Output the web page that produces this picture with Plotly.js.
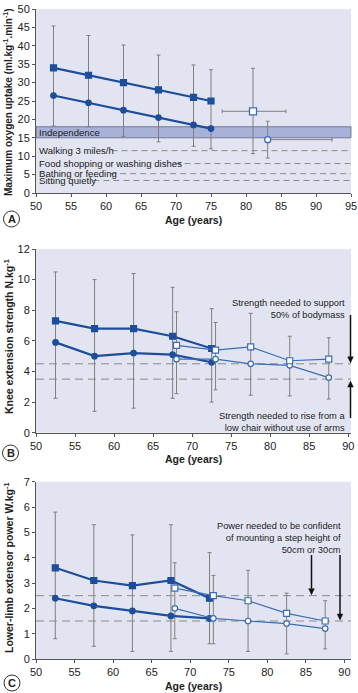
<!DOCTYPE html>
<html>
<head>
<meta charset="utf-8">
<script src="https://cdn.plot.ly/plotly-3.0.1.min.js"></script>
<style>html,body{margin:0;padding:0;background:#fff}#chart{width:358px;height:693px}</style>
</head>
<body>
<div id="chart"></div>
<script>
// ---------- Panel A: maximum oxygen uptake ----------
var ageA = [52.5, 57.5, 62.5, 67.5, 72.5, 75];
var vo2Men = [34, 32, 30, 28, 26, 25];
var vo2Women = [26.5, 24.5, 22.5, 20.5, 18.5, 17.5];
var vo2Top = [45.4, 42.8, 40.2, 37.5, 34.8, 33.5];
var vo2Bottom = [18.2, 18.0, 15.4, 13.9, 12.7, 12.0];
var oldMenA = {age: [81], vo2: [22.2], ageLo: [76.6], ageHi: [85.7], lo: [10.7], hi: [33.9]};
var oldWomenA = {age: [83.1], vo2: [14.5], ageLo: [83.1], ageHi: [92.3], lo: [9.5], hi: [19.5]};
var independenceBand = [15, 18];
var activityLabels = ["Walking 3 miles/h", "Food shopping or washing dishes", "Bathing or feeding", "Sitting quietly"];
var activityLevels = [11.5, 8.0, 5.25, 3.4];
var activityLineStart = [60.8, 69.8, 60.6, 58.2];

// ---------- Panel B: knee extension strength ----------
var ageB = [52.5, 57.5, 62.5, 67.5, 72.5];
var strMen = [7.3, 6.8, 6.8, 6.3, 5.5];
var strWomen = [5.9, 5.0, 5.2, 5.1, 4.6];
var strTop = [10.5, 10.0, 10.4, 9.5, 8.1];
var strBottom = [2.25, 1.4, 1.6, 2.25, 2.0];
var ageB2 = [68, 73, 77.5, 82.5, 87.5];
var strMen2 = [5.7, 5.4, 5.6, 4.7, 4.8];
var strWomen2 = [4.8, 4.8, 4.5, 4.4, 3.6];
var strTop2 = [7.9, 7.2, 7.8, 6.3, 6.2];
var strBottom2 = [2.55, 2.8, 2.45, 2.4, 2.2];
var strThresholds = [4.5, 3.5];

// ---------- Panel C: lower-limb extensor power ----------
var ageC = [52.5, 57.5, 62.5, 67.5, 72.5];
var powMen = [3.6, 3.1, 2.9, 3.1, 2.4];
var powWomen = [2.4, 2.1, 1.9, 1.7, 1.6];
var powTop = [5.8, 5.3, 4.9, 5.3, 4.2];
var powBottom = [0.8, 0.5, 0.3, 0.3, 0.6];
var ageC2 = [68, 73, 77.5, 82.5, 87.5];
var powMen2 = [2.8, 2.5, 2.3, 1.8, 1.5];
var powWomen2 = [2.0, 1.6, 1.5, 1.4, 1.2];
var powTop2 = [3.8, 3.3, 3.5, 2.6, 2.3];
var powBottom2 = [0.8, 0.6, 0.3, 0.2, 0.4];
var powThresholds = [2.5, 1.5];

// ---------- styling ----------
var DARK = '#1d4e9b';
var LIGHT = '#3b6db6';
var ERR = '#7f7f7f';
var FONT = 'Liberation Sans, Arial, sans-serif';
var TXT = '#222';

function diff(a, b) { return a.map(function (v, i) { return v - b[i]; }); }

function errTrace(x, y, top, bottom, xa, ya) {
  return {x: x, y: y, xaxis: xa, yaxis: ya, type: 'scatter', mode: 'markers',
    marker: {size: 1, color: 'rgba(0,0,0,0)'}, hoverinfo: 'skip', showlegend: false,
    error_y: {type: 'data', symmetric: false, array: diff(top, y), arrayminus: diff(y, bottom),
      color: ERR, thickness: 1, width: 2}};
}
function lineTrace(x, y, xa, ya, sym, filled, w) {
  return {x: x, y: y, xaxis: xa, yaxis: ya, type: 'scatter', mode: 'lines+markers', showlegend: false,
    line: {color: filled ? DARK : LIGHT, width: w},
    marker: {symbol: sym, size: sym === 'square' ? 6 : 5.5, color: filled ? DARK : '#ffffff',
      line: {color: filled ? DARK : LIGHT, width: 1.2}}};
}

var traces = [];
// Panel A
traces.push(errTrace(ageA, vo2Men, vo2Top, vo2Bottom, 'x', 'y'));
traces.push(lineTrace(ageA, vo2Women, 'x', 'y', 'circle', true, 2.2));
traces.push(lineTrace(ageA, vo2Men, 'x', 'y', 'square', true, 2.2));
traces.push({x: oldMenA.age, y: oldMenA.vo2, xaxis: 'x', yaxis: 'y', type: 'scatter', mode: 'markers', showlegend: false,
  marker: {symbol: 'square', size: 7, color: '#fff', line: {color: LIGHT, width: 1.3}},
  error_y: {type: 'data', symmetric: false, array: diff(oldMenA.hi, oldMenA.vo2), arrayminus: diff(oldMenA.vo2, oldMenA.lo), color: ERR, thickness: 1, width: 2},
  error_x: {type: 'data', symmetric: false, array: diff(oldMenA.ageHi, oldMenA.age), arrayminus: diff(oldMenA.age, oldMenA.ageLo), color: ERR, thickness: 1, width: 2}});
traces.push({x: oldWomenA.age, y: oldWomenA.vo2, xaxis: 'x', yaxis: 'y', type: 'scatter', mode: 'markers', showlegend: false,
  marker: {symbol: 'circle', size: 6, color: '#fff', line: {color: LIGHT, width: 1.3}},
  error_y: {type: 'data', symmetric: false, array: diff(oldWomenA.hi, oldWomenA.vo2), arrayminus: diff(oldWomenA.vo2, oldWomenA.lo), color: ERR, thickness: 1, width: 2},
  error_x: {type: 'data', symmetric: false, array: diff(oldWomenA.ageHi, oldWomenA.age), arrayminus: diff(oldWomenA.age, oldWomenA.ageLo), color: ERR, thickness: 1, width: 2}});
// Panel B
traces.push(errTrace(ageB, strMen, strTop, strBottom, 'x2', 'y2'));
traces.push(errTrace(ageB2, strMen2, strTop2, strBottom2, 'x2', 'y2'));
traces.push(lineTrace(ageB, strWomen, 'x2', 'y2', 'circle', true, 2.2));
traces.push(lineTrace(ageB, strMen, 'x2', 'y2', 'square', true, 2.2));
traces.push(lineTrace(ageB2, strWomen2, 'x2', 'y2', 'circle', false, 1.2));
traces.push(lineTrace(ageB2, strMen2, 'x2', 'y2', 'square', false, 1.2));
// Panel C
traces.push(errTrace(ageC, powMen, powTop, powBottom, 'x3', 'y3'));
traces.push(errTrace(ageC2, powMen2, powTop2, powBottom2, 'x3', 'y3'));
traces.push(lineTrace(ageC, powWomen, 'x3', 'y3', 'circle', true, 2.2));
traces.push(lineTrace(ageC, powMen, 'x3', 'y3', 'square', true, 2.2));
traces.push(lineTrace(ageC2, powWomen2, 'x3', 'y3', 'circle', false, 1.2));
traces.push(lineTrace(ageC2, powMen2, 'x3', 'y3', 'square', false, 1.2));

// pixel helpers (plot area: x 36..351, y 9..659)
function pyp(y) { return (659 - y) / 650; }
function pxp(x) { return (x - 36) / 315; }

function xAxis(range, anchor) {
  return {range: range, anchor: anchor, domain: [0, 1], dtick: 5, tick0: 50, showgrid: false, zeroline: false,
    showline: true, linecolor: '#555', linewidth: 1, ticks: 'outside', ticklen: 3, tickcolor: '#555',
    tickfont: {family: FONT, size: 11, color: TXT}, fixedrange: true};
}
function yAxis(range, dtick, anchor, dom) {
  return {range: range, anchor: anchor, domain: dom, dtick: dtick, showgrid: false, zeroline: false,
    showline: true, linecolor: '#555', linewidth: 1, ticks: 'outside', ticklen: 3, tickcolor: '#555',
    tickfont: {family: FONT, size: 11, color: TXT}, fixedrange: true};
}

var domA = [pyp(193), 1], domB = [pyp(432.7), pyp(249)], domC = [0, pyp(481.7)];
var rangeB = [0, 12], rangeC = [0, 7];
// value -> paper y for panels B and C
function vB(v) { return domB[0] + (domB[1] - domB[0]) * (v - rangeB[0]) / (rangeB[1] - rangeB[0]); }
function vC(v) { return domC[0] + (domC[1] - domC[0]) * (v - rangeC[0]) / (rangeC[1] - rangeC[0]); }

var shapes = [];
// plot backgrounds
[['x', 'y'], ['x2', 'y2'], ['x3', 'y3']].forEach(function (p) {
  shapes.push({type: 'rect', xref: p[0] + ' domain', yref: p[1] + ' domain', x0: 0, x1: 1, y0: 0, y1: 1,
    fillcolor: '#e2e5f1', line: {width: 0}, layer: 'below'});
});
shapes.push({type: 'rect', xref: 'x domain', yref: 'y', x0: 0, x1: 1, y0: independenceBand[0], y1: independenceBand[1],
  fillcolor: '#a8b2d9', line: {color: '#5d6585', width: 0.8}, layer: 'below'});
activityLevels.forEach(function (v, i) {
  shapes.push({type: 'line', xref: 'x', yref: 'y', x0: activityLineStart[i], x1: 95, y0: v, y1: v,
    line: {color: '#8a8a8a', width: 1, dash: '6px,4px'}, layer: 'below'});
});
strThresholds.forEach(function (v) {
  shapes.push({type: 'line', xref: 'x2 domain', yref: 'y2', x0: 0, x1: 1, y0: v, y1: v,
    line: {color: '#8a8a8a', width: 1, dash: '8px,5px'}, layer: 'below'});
});
powThresholds.forEach(function (v) {
  shapes.push({type: 'line', xref: 'x3 domain', yref: 'y3', x0: 0, x1: 1, y0: v, y1: v,
    line: {color: '#8a8a8a', width: 1, dash: '8px,5px'}, layer: 'below'});
});
// panel letter circles
[[11.5, 219], [10.5, 453], [12, 683]].forEach(function (c) {
  shapes.push({type: 'circle', xref: 'paper', yref: 'paper', x0: pxp(c[0] - 8), x1: pxp(c[0] + 8),
    y0: pyp(c[1] + 8), y1: pyp(c[1] - 8), line: {color: '#333', width: 1}, fillcolor: '#fff'});
});
// arrows (vertical): tail pixel y, tip paper y
function arrow(xpx, tailPx, tipPaper) {
  var x = pxp(xpx), yTail = pyp(tailPx);
  var dir = tipPaper < yTail ? 1 : -1; // 1 = pointing down
  var headH = 6 / 650, headW = 2.8 / 315;
  var base = tipPaper + dir * headH;
  shapes.push({type: 'line', xref: 'paper', yref: 'paper', x0: x, x1: x, y0: yTail, y1: base,
    line: {color: '#111', width: 1.5}});
  shapes.push({type: 'path', xref: 'paper', yref: 'paper',
    path: 'M ' + (x - headW) + ' ' + base + ' L ' + (x + headW) + ' ' + base + ' L ' + x + ' ' + tipPaper + ' Z',
    fillcolor: '#111', line: {color: '#111', width: 0.5}});
}
arrow(350.5, 315, vB(strThresholds[0]) + 1 / 650);
arrow(350.5, 418, vB(strThresholds[1]) - 2 / 650);
arrow(311.5, 555, vC(powThresholds[0]) + 1 / 650);
arrow(340, 555, vC(powThresholds[1]) + 1 / 650);

var ann = [];
function txt(text, x, y, opts) {
  var a = {text: text, xref: 'paper', yref: 'paper', x: x, y: y, showarrow: false,
    font: {family: FONT, size: 10.5, color: TXT}, xanchor: 'center', yanchor: 'middle'};
  for (var k in opts) a[k] = opts[k];
  ann.push(a);
}
// panel A labels
var labFont = {family: FONT, size: 9.6, color: TXT};
ann.push({text: 'Independence', xref: 'x', yref: 'y', x: 50.2, y: 16.5, xanchor: 'left', yanchor: 'middle', showarrow: false, font: labFont});
activityLabels.forEach(function (t, i) {
  ann.push({text: t, xref: 'x', yref: 'y', x: 50.2, y: activityLevels[i], xanchor: 'left', yanchor: 'middle', showarrow: false, font: labFont});
});
// axis titles
var bold = {family: FONT, size: 10.5, color: TXT};
txt('<b>Age (years)</b>', pxp(193), pyp(220), {font: bold});
txt('<b>Age (years)</b>', pxp(193), pyp(459), {font: bold});
txt('<b>Age (years)</b>', pxp(193), pyp(686), {font: bold});
txt('<b>Maximum oxygen uptake (ml.kg<sup>-1</sup>.min<sup>-1</sup>)</b>', pxp(8), pyp(102), {font: {family: FONT, size: 10, color: TXT}, textangle: -90});
txt('<b>Knee extension strength N.kg<sup>-1</sup></b>', pxp(8), pyp(337), {font: bold, textangle: -90});
txt('<b>Lower-limb extensor power W.kg<sup>-1</sup></b>', pxp(8), pyp(568), {font: bold, textangle: -90});
// panel letters
txt('<b>A</b>', pxp(11.5), pyp(219), {font: {family: FONT, size: 11, color: TXT}});
txt('<b>B</b>', pxp(10.5), pyp(453), {font: {family: FONT, size: 11, color: TXT}});
txt('<b>C</b>', pxp(12), pyp(683), {font: {family: FONT, size: 11, color: TXT}});
// notes
var noteFont = {family: FONT, size: 9.3, color: TXT};
txt('Strength needed to support<br>50% of bodymass', pxp(347), pyp(309), {xanchor: 'right', align: 'right', font: noteFont});
txt('Strength needed to rise from a<br>low chair without use of arms', pxp(347), pyp(421.5), {xanchor: 'right', align: 'right', font: noteFont});
txt('Power needed to be confident<br>of mounting a step height of<br>50cm or 30cm', pxp(343), pyp(538), {xanchor: 'right', align: 'right', font: noteFont});

var layout = {
  width: 358, height: 693,
  margin: {l: 36, r: 7, t: 9, b: 34},
  paper_bgcolor: '#ffffff', plot_bgcolor: 'rgba(0,0,0,0)',
  showlegend: false,
  xaxis: xAxis([50, 95], 'y'),
  yaxis: yAxis([0, 50], 5, 'x', domA),
  xaxis2: xAxis([50, 90.35], 'y2'),
  yaxis2: yAxis(rangeB, 2, 'x2', domB),
  xaxis3: xAxis([50, 90.85], 'y3'),
  yaxis3: yAxis(rangeC, 1, 'x3', domC),
  shapes: shapes,
  annotations: ann,
  font: {family: FONT}
};

Plotly.newPlot('chart', traces, layout, {displayModeBar: false, staticPlot: true});
</script>
</body>
</html>
